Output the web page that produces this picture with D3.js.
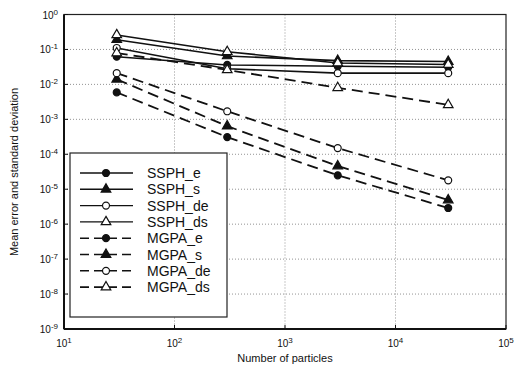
<!DOCTYPE html>
<html>
<head>
<meta charset="utf-8">
<script src="https://cdn.jsdelivr.net/npm/d3@7"></script>
<style>
  body { margin: 0; background: #fff; }
  text { font-family: Arial, "Liberation Sans", sans-serif; fill: #111; }
</style>
</head>
<body>
<svg width="521" height="369"></svg>
<script>
// data
const particles = [30, 300, 3000, 30000];
const ssphE  = [0.062, 0.036, 0.033, 0.031];
const ssphS  = [0.19, 0.065, 0.048, 0.045];
const ssphDe = [0.11, 0.028, 0.021, 0.021];
const ssphDs = [0.26, 0.086, 0.041, 0.037];
const mgpaE  = [0.0059, 0.00031, 2.5e-5, 2.9e-6];
const mgpaS  = [0.014, 0.00064, 4.6e-5, 4.9e-6];
const mgpaDe = [0.021, 0.0017, 0.00015, 1.8e-5];
const mgpaDs = [0.079, 0.026, 0.008, 0.0026];

const seriesNames = ["SSPH_e", "SSPH_s", "SSPH_de", "SSPH_ds", "MGPA_e", "MGPA_s", "MGPA_de", "MGPA_ds"];
const seriesVals = [ssphE, ssphS, ssphDe, ssphDs, mgpaE, mgpaS, mgpaDe, mgpaDs];
const xTicks = [10, 100, 1000, 10000, 100000];
const yTicks = [1, 1e-1, 1e-2, 1e-3, 1e-4, 1e-5, 1e-6, 1e-7, 1e-8, 1e-9];

const svg = d3.select("svg");
const margin = { left: 64, right: 15, top: 14.5, bottom: 40 };
const W = 521, H = 369;

const x = d3.scaleLog().domain([10, 1e5]).range([margin.left, 506]);
const y = d3.scaleLog().domain([1e-9, 1]).range([329, margin.top]);

const sup = { "0": "\u2070", "1": "\u00b9", "2": "\u00b2", "3": "\u00b3", "4": "\u2074", "5": "\u2075",
  "6": "\u2076", "7": "\u2077", "8": "\u2078", "9": "\u2079", "-": "\u207b" };

function tickLabel(sel, v) {
  const e = Math.round(Math.log10(v));
  sel.append("tspan").text("10");
  sel.append("tspan").attr("font-size", 8).attr("dy", -4).text(String(e));
}

// grid
const g = svg.append("g");
g.selectAll(".gx").data(xTicks.slice(1, -1)).enter().append("line")
  .attr("x1", d => x(d)).attr("x2", d => x(d))
  .attr("y1", y(1)).attr("y2", y(1e-9))
  .attr("stroke", "#777").attr("stroke-width", 0.8).attr("stroke-dasharray", "1,2");
g.selectAll(".gy").data(yTicks.slice(1, -1)).enter().append("line")
  .attr("x1", x(10)).attr("x2", x(1e5))
  .attr("y1", d => y(d)).attr("y2", d => y(d))
  .attr("stroke", "#777").attr("stroke-width", 0.8).attr("stroke-dasharray", "1,2");

// frame
g.append("rect").attr("x", x(10)).attr("y", y(1))
  .attr("width", x(1e5) - x(10)).attr("height", y(1e-9) - y(1))
  .attr("fill", "none").attr("stroke", "#222").attr("stroke-width", 1.2);
g.append("line").attr("x1", x(10)).attr("x2", x(10)).attr("y1", y(1)).attr("y2", y(1e-9))
  .attr("stroke", "#111").attr("stroke-width", 2);
g.append("line").attr("x1", x(10)).attr("x2", x(1e5)).attr("y1", y(1e-9)).attr("y2", y(1e-9))
  .attr("stroke", "#111").attr("stroke-width", 2);

// ticks
g.selectAll(".tx").data(xTicks).enter().append("line")
  .attr("x1", d => x(d)).attr("x2", d => x(d))
  .attr("y1", y(1e-9)).attr("y2", y(1e-9) - 4).attr("stroke", "#111");
g.selectAll(".ty").data(yTicks).enter().append("line")
  .attr("x1", x(10)).attr("x2", x(10) + 4)
  .attr("y1", d => y(d)).attr("y2", d => y(d)).attr("stroke", "#111");

// tick labels
g.selectAll(".lx").data(xTicks).enter().append("text")
  .attr("x", d => x(d)).attr("y", 347).attr("text-anchor", "middle").attr("font-size", 10)
  .each(function (d) { tickLabel(d3.select(this), d); });
g.selectAll(".ly").data(yTicks).enter().append("text")
  .attr("x", 58).attr("y", d => y(d) + 4).attr("text-anchor", "end").attr("font-size", 10)
  .each(function (d) { tickLabel(d3.select(this), d); });

// axis titles
svg.append("text").attr("x", 285).attr("y", 362).attr("text-anchor", "middle")
  .attr("font-size", 11).text("Number of particles");
svg.append("text").attr("transform", "translate(18,172) rotate(-90)")
  .attr("text-anchor", "middle").attr("font-size", 11).text("Mean error and standard deviation");

// series
const styles = seriesNames.map((n, i) => ({
  dashed: i >= 4,
  shape: (i % 4 < 2) ? (i % 2 === 0 ? "circle" : "triangle") : (i % 2 === 0 ? "circle" : "triangle"),
  filled: i % 4 < 2
}));

const line = d3.line().x(d => x(d[0])).y(d => y(d[1]));
const circleSym = d3.symbol().type(d3.symbolCircle).size(38);
const triSym = d3.symbol().type(d3.symbolTriangle).size(40);

function marker(sel, st, cx, cy) {
  sel.append("path")
    .attr("d", st.shape === "circle" ? circleSym() : triSym())
    .attr("transform", `translate(${cx},${cy})`)
    .attr("fill", st.filled ? "#111" : "#fff")
    .attr("stroke", "#111").attr("stroke-width", 1.2);
}

const plot = svg.append("g");
seriesVals.forEach((vals, i) => {
  const st = styles[i];
  const pts = particles.map((p, j) => [p, vals[j]]);
  plot.append("path").datum(pts).attr("d", line)
    .attr("fill", "none").attr("stroke", "#111")
    .attr("stroke-width", st.dashed ? 1.8 : 1.6)
    .attr("stroke-dasharray", st.dashed ? "11,6" : null);
  pts.forEach(p => marker(plot, st, x(p[0]), y(p[1])));
});

// legend
const leg = svg.append("g");
leg.append("rect").attr("x", 70).attr("y", 153).attr("width", 157).attr("height", 164)
  .attr("fill", "#fff").attr("stroke", "#222").attr("stroke-width", 1.2);
seriesNames.forEach((n, i) => {
  const st = styles[i];
  const ly = 173 + i * 16.3;
  leg.append("line").attr("x1", 80).attr("x2", 133).attr("y1", ly).attr("y2", ly)
    .attr("stroke", "#111").attr("stroke-width", st.dashed ? 1.6 : 1.4)
    .attr("stroke-dasharray", st.dashed ? "9,5" : null);
  marker(leg, st, 106, ly);
  leg.append("text").attr("x", 147).attr("y", ly + 5).attr("font-size", 14).text(n);
});
</script>
</body>
</html>
